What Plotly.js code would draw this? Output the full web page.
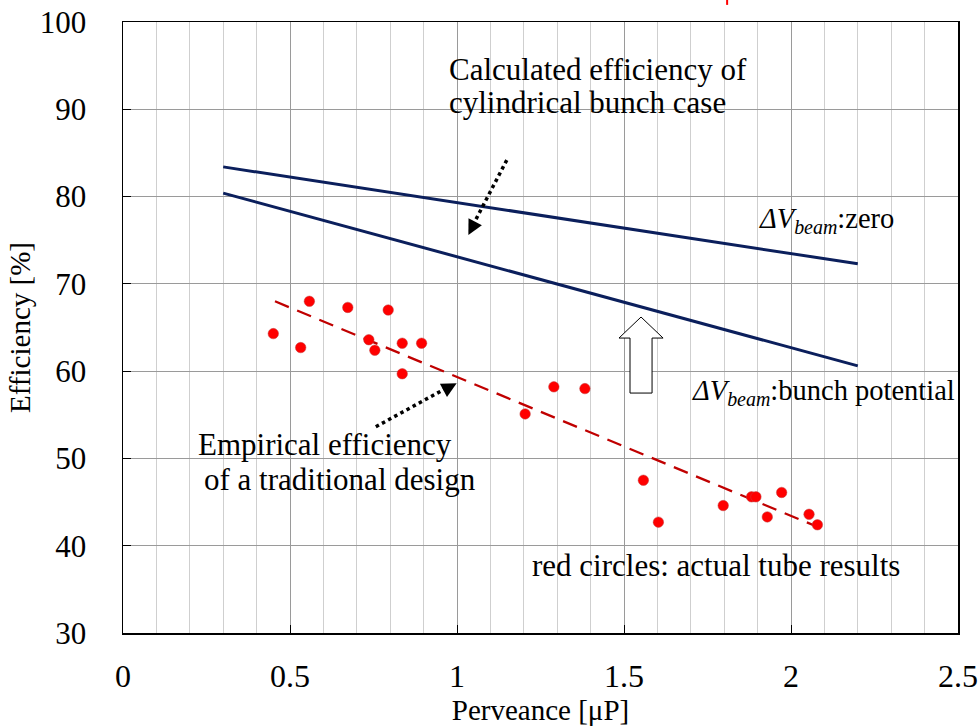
<!DOCTYPE html>
<html>
<head>
<meta charset="utf-8">
<script src="https://cdn.plot.ly/plotly-3.0.1.min.js"></script>
<style>html,body{margin:0;padding:0;background:#fff;}#chart{width:978px;height:728px;}</style>
</head>
<body>
<div id="chart"></div>
<script>
// Calculated efficiency lines (cylindrical bunch case)
const calcX = [0.3, 2.2];
const effZero = [83.4, 72.3];      // ΔVbeam: zero
const effBunch = [80.4, 60.6];     // ΔVbeam: bunch potential

// Empirical trend line (traditional design)
const trendX = [0.455, 2.077];
const trendY = [68.0, 42.2];

// Actual tube results (red circles)
const tubeX = [0.450, 0.532, 0.558, 0.673, 0.736, 0.754, 0.794, 0.836, 0.836, 0.894,
               1.204, 1.290, 1.383, 1.558, 1.603, 1.797, 1.882, 1.895, 1.929, 1.972, 2.054, 2.079];
const tubeY = [64.3, 62.7, 68.0, 67.3, 63.6, 62.4, 67.0, 63.2, 59.7, 63.2,
               55.1, 58.2, 58.0, 47.5, 42.7, 44.6, 45.6, 45.6, 43.3, 46.1, 43.6, 42.4];

const xTicks = [0, 0.5, 1, 1.5, 2, 2.5];
const xTickText = ['0', '0.5', '1', '1.5', '2', '2.5'];
const yTicks = [30, 40, 50, 60, 70, 80, 90, 100];

const FONT = 'Liberation Serif';

const traces = [
  {x: calcX, y: effZero, mode: 'lines', line: {color: '#0B1F5C', width: 3}, hoverinfo: 'skip'},
  {x: calcX, y: effBunch, mode: 'lines', line: {color: '#0B1F5C', width: 3}, hoverinfo: 'skip'},
  {x: trendX, y: trendY, mode: 'lines', line: {color: '#C00000', width: 2.3, dash: '15px,9px'}, hoverinfo: 'skip'},
  {x: tubeX, y: tubeY, mode: 'markers', marker: {color: '#FF0000', size: 10.5, line: {color: '#C04040', width: 0.5}}}
];

const annFont = {family: FONT, size: 31, color: '#000'};
const dvFont = {family: FONT, size: 28.5, color: '#000'};

const layout = {
  width: 978, height: 728,
  margin: {l: 123, r: 20, t: 22, b: 95},
  paper_bgcolor: '#fff', plot_bgcolor: '#fff',
  showlegend: false,
  font: {family: FONT, color: '#000'},
  xaxis: {
    range: [0, 2.5], tickvals: xTicks, ticktext: xTickText,
    tickfont: {family: FONT, size: 32, color: '#000'},
    ticks: 'inside', ticklen: 8, tickcolor: '#000', tickwidth: 1,
    showline: true, linecolor: '#000', linewidth: 1.5, mirror: true,
    showgrid: true, gridcolor: '#9a9a9a', gridwidth: 1,
    minor: {dtick: 0.1, showgrid: true, gridcolor: '#cfcfcf', gridwidth: 1},
    zeroline: false, ticklabelstandoff: 14,
    title: {text: 'Perveance [μP]', font: {family: FONT, size: 29, color: '#000'}, standoff: 4}
  },
  yaxis: {
    range: [30, 100], tickvals: yTicks,
    tickfont: {family: FONT, size: 31, color: '#000'},
    ticks: 'inside', ticklen: 8, tickcolor: '#000', tickwidth: 1,
    showline: true, linecolor: '#000', linewidth: 1.5, mirror: true,
    showgrid: true, gridcolor: '#9a9a9a', gridwidth: 1,
    zeroline: false, ticklabelstandoff: 29,
    title: {text: 'Efficiency [%]', font: {family: FONT, size: 29, color: '#000'}, standoff: 0}
  },
  shapes: [
    // hollow block arrow
    {type: 'path', xref: 'x', yref: 'y',
     path: 'M 1.518,57.49 L 1.584,57.49 L 1.584,63.79 L 1.617,63.79 L 1.551,66.2 L 1.485,63.79 L 1.518,63.79 Z',
     fillcolor: '#fff', line: {color: '#000', width: 1}},
    // dotted arrow shafts
    {type: 'line', xref: 'x', yref: 'y', x0: 1.149, y0: 84.18, x1: 1.05, y1: 76.9,
     line: {color: '#000', width: 3.5, dash: 'dot'}},
    {type: 'line', xref: 'x', yref: 'y', x0: 0.757, y0: 53.63, x1: 0.975, y1: 58.2,
     line: {color: '#000', width: 3.5, dash: 'dot'}},
    // small red mark at top
    {type: 'line', xref: 'paper', yref: 'paper', x0: 0.7235, x1: 0.7235, y0: 1.028, y1: 1.036,
     line: {color: '#FF0000', width: 2}}
  ],
  annotations: [
    {x: 0.97, y: 94.6, xref: 'x', yref: 'y', xanchor: 'left', yanchor: 'middle',
     text: 'Calculated efficiency of', showarrow: false, font: annFont},
    {x: 0.97, y: 90.8, xref: 'x', yref: 'y', xanchor: 'left', yanchor: 'middle',
     text: 'cylindrical bunch case', showarrow: false, font: annFont},
    {x: 1.898, y: 77.3, xref: 'x', yref: 'y', xanchor: 'left', yanchor: 'middle',
     text: '<i>ΔV<sub>beam</sub></i>:zero', showarrow: false, font: dvFont},
    {x: 1.698, y: 57.5, xref: 'x', yref: 'y', xanchor: 'left', yanchor: 'middle',
     text: '<i>ΔV<sub>beam</sub></i>:bunch potential', showarrow: false, font: dvFont},
    {x: 0.605, y: 51.6, xref: 'x', yref: 'y', xanchor: 'center', yanchor: 'middle',
     text: 'Empirical efficiency', showarrow: false, font: annFont},
    {x: 0.65, y: 47.6, xref: 'x', yref: 'y', xanchor: 'center', yanchor: 'middle',
     text: 'of a traditional design', showarrow: false, font: annFont},
    {x: 1.219, y: 37.7, xref: 'x', yref: 'y', xanchor: 'left', yanchor: 'middle',
     text: 'red circles: actual tube results', showarrow: false, font: annFont},
    // arrow heads
    {x: 1.034, y: 75.59, xref: 'x', yref: 'y', text: '', showarrow: true,
     ax: 6.4, ay: -12.5, arrowhead: 2, arrowsize: 1.2, arrowwidth: 2.5, arrowcolor: '#000', standoff: 0},
    {x: 0.999, y: 58.6, xref: 'x', yref: 'y', text: '', showarrow: true,
     ax: -12.3, ay: 6.6, arrowhead: 2, arrowsize: 1.2, arrowwidth: 2.5, arrowcolor: '#000', standoff: 0}
  ]
};

Plotly.newPlot('chart', traces, layout, {displayModeBar: false, staticPlot: true});
</script>
</body>
</html>
